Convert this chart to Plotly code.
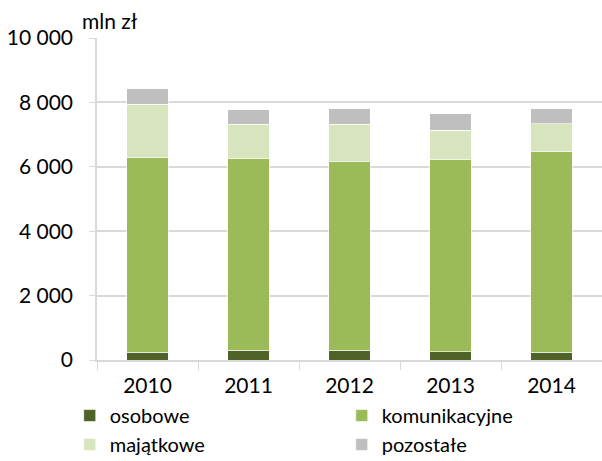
import plotly.graph_objects as go

years = ["2010", "2011", "2012", "2013", "2014"]
osobowe = [240, 300, 300, 260, 240]
komunikacyjne = [6060, 5950, 5850, 5980, 6240]
majatkowe = [1650, 1070, 1170, 895, 850]
pozostale = [470, 445, 480, 515, 475]

series = [
    ("osobowe", osobowe, "#4f6228"),
    ("komunikacyjne", komunikacyjne, "#9bbb59"),
    ("majątkowe", majatkowe, "#d7e4bd"),
    ("pozostałe", pozostale, "#bfbfbf"),
]

font_family = "Lato, Carlito, Calibri, sans-serif"

fig = go.Figure()
for name, vals, color in series:
    fig.add_trace(go.Bar(
        x=years, y=vals, name=name,
        marker=dict(color=color, line=dict(color="rgba(255,255,255,0.6)", width=1)),
    ))

fig.update_layout(
    barmode="stack",
    bargap=0.59,
    width=602, height=461,
    margin=dict(l=97, r=0, t=38, b=101, autoexpand=False),
    paper_bgcolor="white", plot_bgcolor="white",
    font=dict(family=font_family, size=21, color="#000000"),
    showlegend=True,
    legend=dict(
        orientation="h", x=-0.054, xanchor="left",
        y=-0.112, yanchor="top",
        entrywidth=227, entrywidthmode="pixels",
        font=dict(size=20), itemwidth=30, traceorder="normal",
        tracegroupgap=0,
    ),
    xaxis=dict(
        type="category",
        showline=True, linecolor="#d9d9d9", linewidth=1.5,
        ticks="outside", tickson="boundaries", ticklen=8, tickcolor="#d9d9d9",
        ticklabelstandoff=6,
        tickfont=dict(size=21),
        showgrid=False,
    ),
    yaxis=dict(
        range=[0, 10000], tickvals=[0, 2000, 4000, 6000, 8000, 10000],
        ticktext=["0", "2 000", "4 000", "6 000", "8 000", "10 000"],
        showline=True, linecolor="#d9d9d9", linewidth=1.5,
        ticks="outside", ticklen=6, tickcolor="#d9d9d9",
        ticklabelstandoff=12,
        showgrid=True, gridcolor="#d9d9d9", gridwidth=1.5,
        zeroline=False,
        tickfont=dict(size=21),
    ),
    annotations=[dict(
        text="mln zł", xref="paper", yref="paper", x=-0.034, y=1.0,
        xanchor="left", yanchor="bottom", yshift=3, showarrow=False,
        font=dict(size=21),
    )],
)

fig.write_html("out.html")
